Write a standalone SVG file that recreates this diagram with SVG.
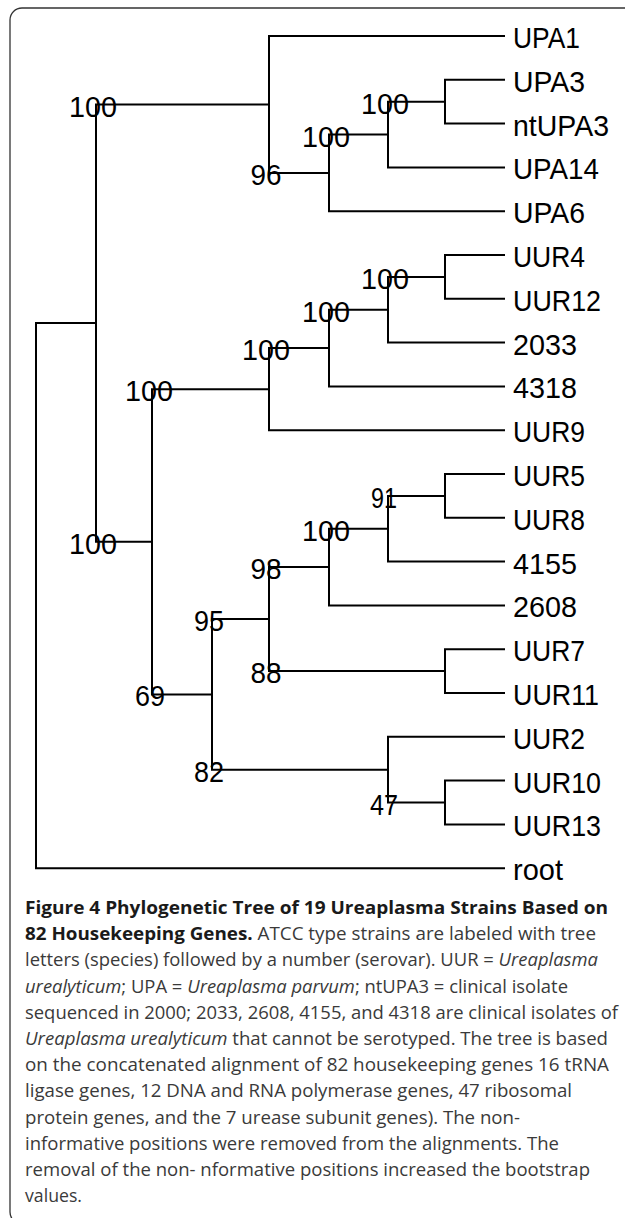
<svg xmlns="http://www.w3.org/2000/svg" width="625" height="1218" viewBox="0 0 625 1218">
<style>
.frame{fill:none;stroke:#333;stroke-width:1.3}
.br{fill:none;stroke:#000;stroke-width:2;stroke-linecap:square;stroke-linejoin:miter}
.leaf{font-family:"Liberation Sans",Arial,sans-serif;font-size:29px;fill:#000}
.bs{font-family:"Liberation Sans",Arial,sans-serif;font-size:29px;fill:#000;text-anchor:middle}
.cap{font-family:"Open Sans","Noto Sans",sans-serif;font-size:18px;fill:#3a3a3a}
.b{font-weight:bold;fill:#1a1a1a}
.i{font-style:italic}
</style>
<rect class="frame" x="10" y="8" width="640" height="1216" rx="12" ry="12"/>
<g id="connectors">
<path class="br" d="M504,79.8 H445 V123.6 H504"/>
<path class="br" d="M445,101.7 H388 V167.4 H504"/>
<path class="br" d="M388,134.55 H329 V211.2 H504"/>
<path class="br" d="M504,36 H269 V172.9 H329"/>
<path class="br" d="M504,255 H445 V298.8 H504"/>
<path class="br" d="M445,276.9 H388 V342.6 H504"/>
<path class="br" d="M388,309.75 H329 V386.4 H504"/>
<path class="br" d="M329,348.1 H269 V430.2 H504"/>
<path class="br" d="M504,474 H445 V517.8 H504"/>
<path class="br" d="M445,495.9 H388 V561.6 H504"/>
<path class="br" d="M388,528.75 H329 V605.4 H504"/>
<path class="br" d="M504,649.2 H445 V693 H504"/>
<path class="br" d="M329,567.1 H269 V671.1 H445"/>
<path class="br" d="M504,780.6 H445 V824.4 H504"/>
<path class="br" d="M504,736.8 H388 V802.5 H445"/>
<path class="br" d="M269,619.1 H212 V769.65 H388"/>
<path class="br" d="M269,389.15 H152 V694.4 H212"/>
<path class="br" d="M269,104.45 H96 V541.8 H152"/>
<path class="br" d="M96,323.1 H36 V868.2 H504"/>
</g>
<g id="leaf-UPA1"><text class="leaf" x="513" y="48" textLength="67" lengthAdjust="spacingAndGlyphs">UPA1</text></g>
<g id="leaf-UPA3"><text class="leaf" x="513" y="91.8" textLength="72" lengthAdjust="spacingAndGlyphs">UPA3</text></g>
<g id="leaf-ntUPA3"><text class="leaf" x="513" y="135.6" textLength="96" lengthAdjust="spacingAndGlyphs">ntUPA3</text></g>
<g id="leaf-UPA14"><text class="leaf" x="513" y="179.4" textLength="86" lengthAdjust="spacingAndGlyphs">UPA14</text></g>
<g id="leaf-UPA6"><text class="leaf" x="513" y="223.2" textLength="72" lengthAdjust="spacingAndGlyphs">UPA6</text></g>
<g id="leaf-UUR4"><text class="leaf" x="513" y="267" textLength="72" lengthAdjust="spacingAndGlyphs">UUR4</text></g>
<g id="leaf-UUR12"><text class="leaf" x="513" y="310.8" textLength="88" lengthAdjust="spacingAndGlyphs">UUR12</text></g>
<g id="leaf-2033"><text class="leaf" x="513" y="354.6" textLength="64" lengthAdjust="spacingAndGlyphs">2033</text></g>
<g id="leaf-4318"><text class="leaf" x="513" y="398.4" textLength="64" lengthAdjust="spacingAndGlyphs">4318</text></g>
<g id="leaf-UUR9"><text class="leaf" x="513" y="442.2" textLength="72" lengthAdjust="spacingAndGlyphs">UUR9</text></g>
<g id="leaf-UUR5"><text class="leaf" x="513" y="486" textLength="72" lengthAdjust="spacingAndGlyphs">UUR5</text></g>
<g id="leaf-UUR8"><text class="leaf" x="513" y="529.8" textLength="72" lengthAdjust="spacingAndGlyphs">UUR8</text></g>
<g id="leaf-4155"><text class="leaf" x="513" y="573.6" textLength="64" lengthAdjust="spacingAndGlyphs">4155</text></g>
<g id="leaf-2608"><text class="leaf" x="513" y="617.4" textLength="64" lengthAdjust="spacingAndGlyphs">2608</text></g>
<g id="leaf-UUR7"><text class="leaf" x="513" y="661.2" textLength="72" lengthAdjust="spacingAndGlyphs">UUR7</text></g>
<g id="leaf-UUR11"><text class="leaf" x="513" y="705" textLength="86" lengthAdjust="spacingAndGlyphs">UUR11</text></g>
<g id="leaf-UUR2"><text class="leaf" x="513" y="748.8" textLength="72" lengthAdjust="spacingAndGlyphs">UUR2</text></g>
<g id="leaf-UUR10"><text class="leaf" x="513" y="792.6" textLength="88" lengthAdjust="spacingAndGlyphs">UUR10</text></g>
<g id="leaf-UUR13"><text class="leaf" x="513" y="836.4" textLength="88" lengthAdjust="spacingAndGlyphs">UUR13</text></g>
<g id="leaf-root"><text class="leaf" x="513" y="880.2" textLength="50" lengthAdjust="spacingAndGlyphs">root</text></g>
<g id="node-upa"><text class="bs" x="93" y="116.5" textLength="48" lengthAdjust="spacingAndGlyphs">100</text></g>
<g id="node-upa3"><text class="bs" x="385" y="113.7" textLength="48" lengthAdjust="spacingAndGlyphs">100</text></g>
<g id="node-upa14"><text class="bs" x="326" y="146.5" textLength="48" lengthAdjust="spacingAndGlyphs">100</text></g>
<g id="node-upa6"><text class="bs" x="266" y="185" textLength="31" lengthAdjust="spacingAndGlyphs">96</text></g>
<g id="node-uur4"><text class="bs" x="385" y="289" textLength="48" lengthAdjust="spacingAndGlyphs">100</text></g>
<g id="node-2033"><text class="bs" x="326" y="321.8" textLength="48" lengthAdjust="spacingAndGlyphs">100</text></g>
<g id="node-4318"><text class="bs" x="266" y="360" textLength="48" lengthAdjust="spacingAndGlyphs">100</text></g>
<g id="node-uur9"><text class="bs" x="149" y="401" textLength="48" lengthAdjust="spacingAndGlyphs">100</text></g>
<g id="node-uur5"><text class="bs" x="384" y="508" textLength="26" lengthAdjust="spacingAndGlyphs">91</text></g>
<g id="node-4155"><text class="bs" x="326" y="540.8" textLength="48" lengthAdjust="spacingAndGlyphs">100</text></g>
<g id="node-2608"><text class="bs" x="266" y="579" textLength="31" lengthAdjust="spacingAndGlyphs">98</text></g>
<g id="node-uur7"><text class="bs" x="266" y="683" textLength="31" lengthAdjust="spacingAndGlyphs">88</text></g>
<g id="node-95"><text class="bs" x="209" y="631" textLength="30" lengthAdjust="spacingAndGlyphs">95</text></g>
<g id="node-82"><text class="bs" x="209" y="781.7" textLength="30" lengthAdjust="spacingAndGlyphs">82</text></g>
<g id="node-47"><text class="bs" x="384" y="814.5" textLength="28" lengthAdjust="spacingAndGlyphs">47</text></g>
<g id="node-69"><text class="bs" x="150" y="706.4" textLength="30" lengthAdjust="spacingAndGlyphs">69</text></g>
<g id="node-uur"><text class="bs" x="93" y="553.8" textLength="48" lengthAdjust="spacingAndGlyphs">100</text></g>
<g id="caption">
<text class="cap b" x="25" y="914" textLength="583" lengthAdjust="spacingAndGlyphs">Figure 4 Phylogenetic Tree of 19 Ureaplasma Strains Based on</text>
<text class="cap" x="25" y="940.2" textLength="571" lengthAdjust="spacingAndGlyphs"><tspan class="b">82 Housekeeping Genes.</tspan> ATCC type strains are labeled with tree</text>
<text class="cap" x="25" y="966.4" textLength="573" lengthAdjust="spacingAndGlyphs">letters (species) followed by a number (serovar). UUR = <tspan class="i">Ureaplasma</tspan></text>
<text class="cap" x="25" y="992.6" textLength="543" lengthAdjust="spacingAndGlyphs"><tspan class="i">urealyticum</tspan>; UPA = <tspan class="i">Ureaplasma parvum</tspan>; ntUPA3 = clinical isolate</text>
<text class="cap" x="25" y="1018.8" textLength="593" lengthAdjust="spacingAndGlyphs">sequenced in 2000; 2033, 2608, 4155, and 4318 are clinical isolates of</text>
<text class="cap" x="25" y="1045" textLength="583" lengthAdjust="spacingAndGlyphs"><tspan class="i">Ureaplasma urealyticum</tspan> that cannot be serotyped. The tree is based</text>
<text class="cap" x="25" y="1071.2" textLength="584" lengthAdjust="spacingAndGlyphs">on the concatenated alignment of 82 housekeeping genes 16 tRNA</text>
<text class="cap" x="25" y="1097.4" textLength="547" lengthAdjust="spacingAndGlyphs">ligase genes, 12 DNA and RNA polymerase genes, 47 ribosomal</text>
<text class="cap" x="25" y="1123.6" textLength="495" lengthAdjust="spacingAndGlyphs">protein genes, and the 7 urease subunit genes). The non-</text>
<text class="cap" x="25" y="1149.8" textLength="534" lengthAdjust="spacingAndGlyphs">informative positions were removed from the alignments. The</text>
<text class="cap" x="25" y="1176" textLength="565" lengthAdjust="spacingAndGlyphs">removal of the non- nformative positions increased the bootstrap</text>
<text class="cap" x="25" y="1202.2" textLength="57" lengthAdjust="spacingAndGlyphs">values.</text>
</g>
</svg>
